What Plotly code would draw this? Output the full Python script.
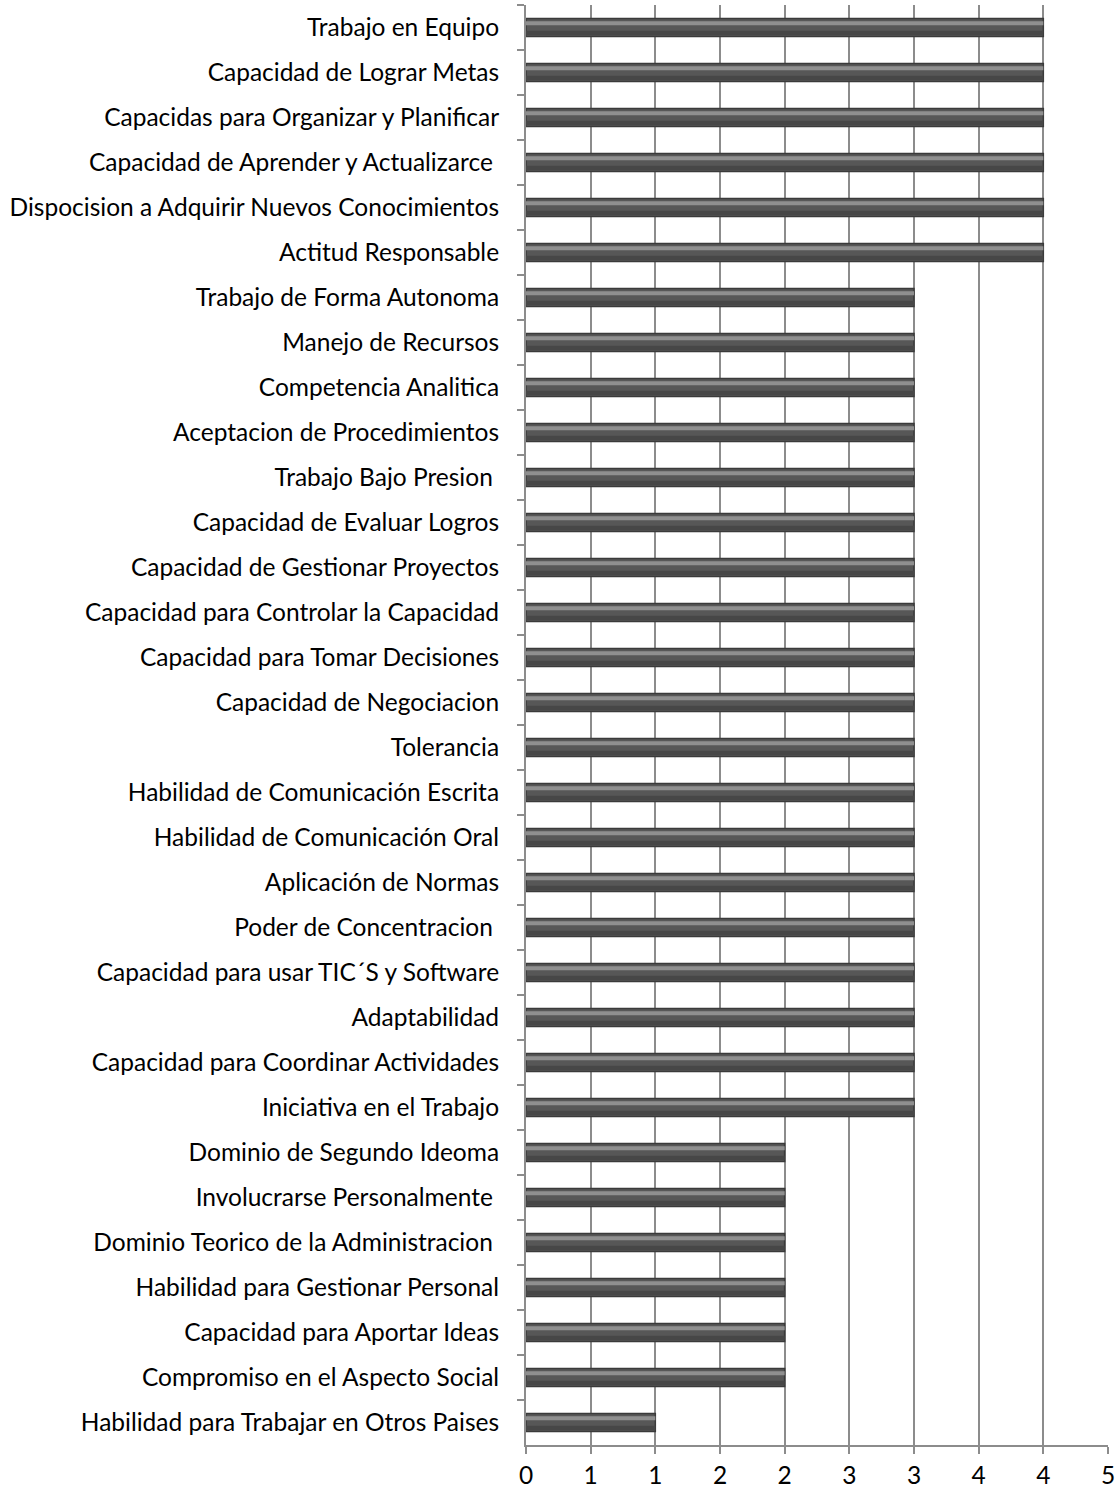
import plotly.graph_objects as go

categories = [
    "Trabajo en Equipo",
    "Capacidad de Lograr Metas",
    "Capacidas para Organizar y Planificar",
    "Capacidad de Aprender y Actualizarce ",
    "Dispocision a Adquirir Nuevos Conocimientos",
    "Actitud Responsable",
    "Trabajo de Forma Autonoma",
    "Manejo de Recursos",
    "Competencia Analitica",
    "Aceptacion de Procedimientos",
    "Trabajo Bajo Presion ",
    "Capacidad de Evaluar Logros",
    "Capacidad de Gestionar Proyectos",
    "Capacidad para Controlar la Capacidad",
    "Capacidad para Tomar Decisiones",
    "Capacidad de Negociacion",
    "Tolerancia",
    "Habilidad de Comunicación Escrita",
    "Habilidad de Comunicación Oral",
    "Aplicación de Normas",
    "Poder de Concentracion ",
    "Capacidad para usar TIC´S y Software",
    "Adaptabilidad",
    "Capacidad para Coordinar Actividades",
    "Iniciativa en el Trabajo",
    "Dominio de Segundo Ideoma",
    "Involucrarse Personalmente ",
    "Dominio Teorico de la Administracion ",
    "Habilidad para Gestionar Personal",
    "Capacidad para Aportar Ideas",
    "Compromiso en el Aspecto Social",
    "Habilidad para Trabajar en Otros Paises",
]
values = [4, 4, 4, 4, 4, 4,
          3, 3, 3, 3, 3, 3, 3, 3, 3, 3, 3, 3, 3, 3, 3, 3, 3, 3, 3,
          2, 2, 2, 2, 2, 2,
          1]
tick_vals = [0, 0.5, 1, 1.5, 2, 2.5, 3, 3.5, 4, 4.5]
tick_text = ["0", "1", "1", "2", "2", "3", "3", "4", "4", "5"]

FONT = "Lato"
FSIZE = 24.5
AXC = "#8c8c8c"

fig = go.Figure()
# main bar body
fig.add_trace(go.Bar(
    y=categories, x=values, orientation="h",
    marker=dict(color="#575757", line=dict(color="#3a3a3a", width=1.5)),
    width=0.4,
    showlegend=False, hoverinfo="skip",
))
# darker lower band
fig.add_trace(go.Bar(
    y=categories, x=values, orientation="h",
    marker=dict(color="#474747", line=dict(width=0)),
    width=0.1, offset=0.07,
    showlegend=False, hoverinfo="skip",
))
# lighter upper highlight band (cylinder look)
fig.add_trace(go.Bar(
    y=categories, x=values, orientation="h",
    marker=dict(color="#8f8f8f", line=dict(width=0)),
    width=0.09, offset=-0.14,
    showlegend=False, hoverinfo="skip",
))

fig.update_layout(
    width=1119, height=1492,
    margin=dict(l=526, r=11, t=5, b=47),
    paper_bgcolor="white", plot_bgcolor="white",
    barmode="overlay",
    font=dict(family=FONT, size=FSIZE, color="black"),
)
fig.update_xaxes(
    range=[0, 4.5],
    tickvals=tick_vals, ticktext=tick_text,
    showgrid=True, gridcolor=AXC, gridwidth=2,
    showline=True, linecolor=AXC, linewidth=2,
    ticks="outside", ticklen=7, tickcolor=AXC, tickwidth=2,
    tickfont=dict(family=FONT, size=FSIZE, color="black"),
    ticklabelstandoff=1,
    ticklabeloverflow="allow",
    automargin=False,
    zeroline=False,
)
fig.update_yaxes(
    type="category",
    categoryorder="array", categoryarray=categories,
    autorange="reversed",
    showline=True, linecolor=AXC, linewidth=2,
    ticks="outside", ticklen=7, tickcolor=AXC, tickwidth=2,
    tickson="boundaries",
    ticklabelstandoff=20,
    ticklabeloverflow="allow",
    automargin=False,
    tickfont=dict(family=FONT, size=FSIZE, color="black"),
    showgrid=False,
)

fig.write_html(
    "out.html",
    config={"displayModeBar": False},
    post_script="document.body.style.margin='0';document.body.style.overflow='hidden';",
)
